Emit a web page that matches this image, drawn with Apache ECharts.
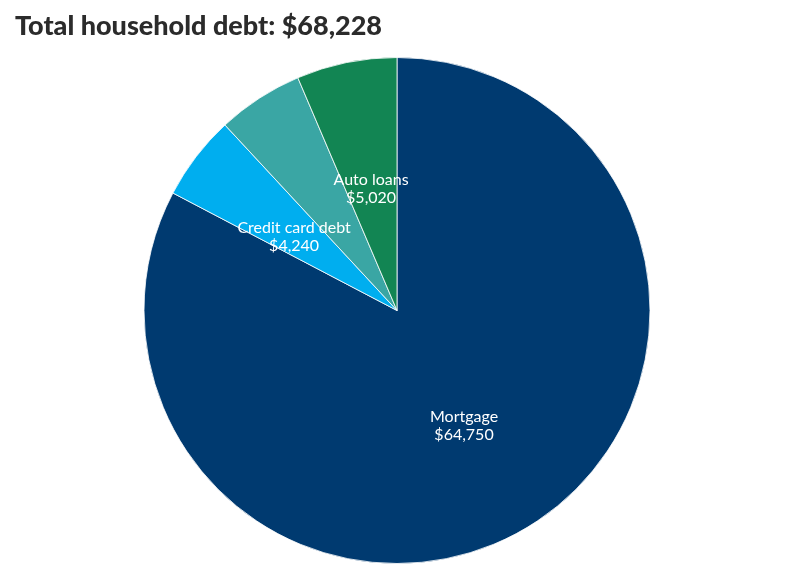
<!DOCTYPE html>
<html>
<head>
<meta charset="utf-8">
<script src="https://cdn.jsdelivr.net/npm/echarts@6/dist/echarts.min.js"></script>
<style>
  html, body {margin: 0; padding: 0; background: #fff;}
  #pieChart {width: 794px; height: 575px;}
</style>
</head>
<body>
<div id="pieChart"></div>
<script>
function $(id) {return document.getElementById(id)}

// slices, clockwise from 12 o'clock
var categories = ['Mortgage', 'Credit card debt', 'Student loans', 'Auto loans'];
var debtValues = [64750, 4240, 4300, 5020];
var sliceColors = ['#003a70', '#00aeef', '#3aa6a4', '#128553'];
var hiddenLabels = ['Student loans']; // label not shown in the original

var pieChart = echarts.init($('pieChart'));
pieChart.setOption({
  animation: false,
  title: {
    text: 'Total household debt: $68,228',
    left: 10,
    top: 8,
    textStyle: {
      fontFamily: 'Lato',
      fontWeight: 900,
      fontSize: 27,
      color: '#2b2b2b'
    }
  },
  series: [
    {
      type: 'pie',
      center: [397, 310.5],
      radius: 253,
      startAngle: 90,
      clockwise: true,
      avoidLabelOverlap: false,
      itemStyle: {
        borderColor: '#fff',
        borderWidth: 0.8
      },
      label: {
        position: 'inside',
        offset: [0, 5],
        color: '#fff',
        fontFamily: 'Lato',
        fontSize: 16,
        lineHeight: 18,
        formatter: function (p) {
          return p.name + '\n$' + p.value.toLocaleString('en-US');
        }
      },
      labelLine: {show: false},
      emphasis: {disabled: true},
      data: categories.map(function (name, i) {
        return {
          name: name,
          value: debtValues[i],
          itemStyle: {color: sliceColors[i]},
          label: {show: hiddenLabels.indexOf(name) < 0}
        };
      })
    }
  ]
});
</script>
</body>
</html>
